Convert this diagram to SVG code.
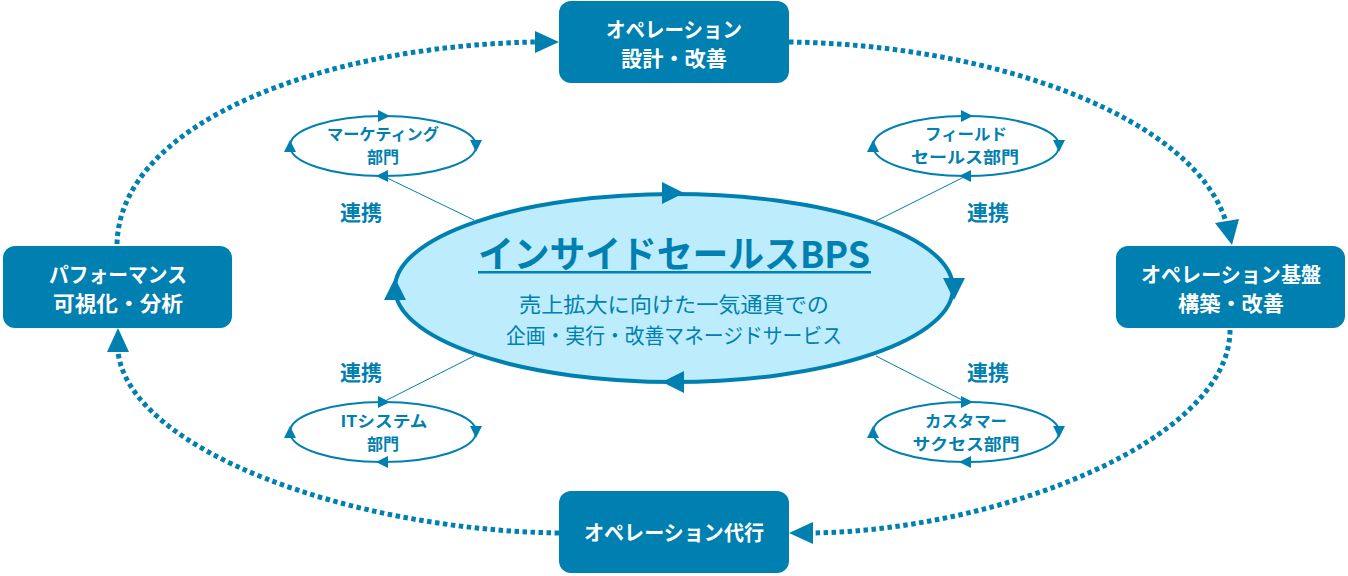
<svg xmlns="http://www.w3.org/2000/svg" width="1348" height="576" viewBox="0 0 1348 576">
<style>
.box{fill:#0080B0;}
.bt{fill:#ffffff;font-family:"Noto Sans CJK JP","Noto Sans",sans-serif;font-weight:bold;font-size:21px;text-anchor:middle;}
.dot{fill:none;stroke:#0080B0;stroke-width:5;stroke-dasharray:4.5 3.5;}
.ah{fill:#0080B0;}
.sm{fill:#ffffff;stroke:#0080B0;stroke-width:2;}
.st{fill:#0080B0;font-family:"Noto Sans CJK JP","Noto Sans",sans-serif;font-weight:bold;font-size:16px;text-anchor:middle;}
.lk{fill:#0080B0;font-family:"Noto Sans CJK JP","Noto Sans",sans-serif;font-weight:bold;font-size:21px;text-anchor:middle;}
.ln{stroke:#0080B0;stroke-width:1;}
</style>
<rect width="1348" height="576" fill="#ffffff"/>
<g id="connectors">
<path class="dot" d="M117,244 C120,120 330,45 537,42"/>
<polygon class="ah" points="559,42 535,31 535,53"/>
<path class="dot" d="M789,42 C1000,45 1195,120 1226,222"/>
<polygon class="ah" points="1232,245 1215,223 1239,219"/>
<path class="dot" d="M1230,330 C1230,440 1000,530 813,533"/>
<polygon class="ah" points="789,533 813,522 813,544"/>
<path class="dot" d="M559,533 C350,530 130,450 118,352"/>
<polygon class="ah" points="118,328 107,352 129,352"/>
<line class="ln" x1="474" y1="220" x2="383" y2="176"/>
<line class="ln" x1="876" y1="221" x2="966" y2="176"/>
<line class="ln" x1="474" y1="356" x2="383" y2="402"/>
<line class="ln" x1="876" y1="356" x2="966" y2="402"/>
</g>
<g id="node-top">
<rect class="box" x="559" y="1" width="230" height="82" rx="12"/>
<text class="bt" x="674" y="37" textLength="136" lengthAdjust="spacingAndGlyphs">オペレーション</text>
<text class="bt" x="674" y="66" textLength="106" lengthAdjust="spacingAndGlyphs">設計・改善</text>
</g>
<g id="node-right">
<rect class="box" x="1116" y="246" width="229" height="82" rx="12"/>
<text class="bt" x="1231" y="282" textLength="180" lengthAdjust="spacingAndGlyphs">オペレーション基盤</text>
<text class="bt" x="1231" y="311" textLength="106" lengthAdjust="spacingAndGlyphs">構築・改善</text>
</g>
<g id="node-bottom">
<rect class="box" x="559" y="491" width="230" height="82" rx="12"/>
<text class="bt" x="674" y="540" textLength="180" lengthAdjust="spacingAndGlyphs">オペレーション代行</text>
</g>
<g id="node-left">
<rect class="box" x="3" y="246" width="229" height="82" rx="12"/>
<text class="bt" x="118" y="282" textLength="138" lengthAdjust="spacingAndGlyphs">パフォーマンス</text>
<text class="bt" x="118" y="311" textLength="130" lengthAdjust="spacingAndGlyphs">可視化・分析</text>
</g>
<g id="node-center">
<ellipse cx="674" cy="288" rx="279" ry="94" fill="#BDECFC" stroke="#0080B0" stroke-width="4"/>
<polygon class="ah" points="684,193 662,182 662,204"/>
<polygon class="ah" points="954,300 943,278 965,278"/>
<polygon class="ah" points="662,382 684,371 684,393"/>
<polygon class="ah" points="395,278 384,300 406,300"/>
<text x="674" y="268" fill="#0080B0" font-family="'Noto Sans CJK JP','Noto Sans',sans-serif" font-weight="bold" font-size="37" text-anchor="middle" textLength="392" lengthAdjust="spacingAndGlyphs">インサイドセールスBPS</text>
<rect x="478" y="271" width="393" height="2.5" fill="#0080B0"/>
<text x="674" y="312" fill="#0080B0" font-family="'Noto Sans CJK JP','Noto Sans',sans-serif" font-size="21" text-anchor="middle" textLength="310" lengthAdjust="spacingAndGlyphs">売上拡大に向けた一気通貫での</text>
<text x="674" y="343" fill="#0080B0" font-family="'Noto Sans CJK JP','Noto Sans',sans-serif" font-size="21" text-anchor="middle" textLength="336" lengthAdjust="spacingAndGlyphs">企画・実行・改善マネージドサービス</text>
</g>
<g id="node-marketing">
<ellipse class="sm" cx="383" cy="146" rx="93" ry="30"/>
<polygon class="ah" points="390,116 378,110 378,122"/>
<polygon class="ah" points="476,152 470,140 482,140"/>
<polygon class="ah" points="376,176 388,170 388,182"/>
<polygon class="ah" points="290,140 284,152 296,152"/>
<text class="st" x="383" y="140" textLength="112" lengthAdjust="spacingAndGlyphs">マーケティング</text>
<text class="st" x="383" y="163">部門</text>
</g>
<g id="node-field">
<ellipse class="sm" cx="966" cy="146" rx="93" ry="30"/>
<polygon class="ah" points="973,116 961,110 961,122"/>
<polygon class="ah" points="1059,152 1053,140 1065,140"/>
<polygon class="ah" points="959,176 971,170 971,182"/>
<polygon class="ah" points="873,140 867,152 879,152"/>
<text class="st" x="966" y="140" textLength="82" lengthAdjust="spacingAndGlyphs">フィールド</text>
<text class="st" x="965" y="163" textLength="108" lengthAdjust="spacingAndGlyphs">セールス部門</text>
</g>
<g id="node-it">
<ellipse class="sm" cx="383" cy="432" rx="93" ry="30"/>
<polygon class="ah" points="390,402 378,396 378,408"/>
<polygon class="ah" points="476,438 470,426 482,426"/>
<polygon class="ah" points="376,462 388,456 388,468"/>
<polygon class="ah" points="290,426 284,438 296,438"/>
<text class="st" x="384" y="427" textLength="87" lengthAdjust="spacingAndGlyphs">ITシステム</text>
<text class="st" x="383" y="450">部門</text>
</g>
<g id="node-cs">
<ellipse class="sm" cx="966" cy="432" rx="93" ry="30"/>
<polygon class="ah" points="973,402 961,396 961,408"/>
<polygon class="ah" points="1059,438 1053,426 1065,426"/>
<polygon class="ah" points="959,462 971,456 971,468"/>
<polygon class="ah" points="873,426 867,438 879,438"/>
<text class="st" x="966" y="427" textLength="82" lengthAdjust="spacingAndGlyphs">カスタマー</text>
<text class="st" x="966" y="450" textLength="107" lengthAdjust="spacingAndGlyphs">サクセス部門</text>
</g>
<g id="labels">
<text class="lk" x="361" y="220">連携</text>
<text class="lk" x="988" y="220">連携</text>
<text class="lk" x="361" y="380">連携</text>
<text class="lk" x="988" y="380">連携</text>
</g>
</svg>
